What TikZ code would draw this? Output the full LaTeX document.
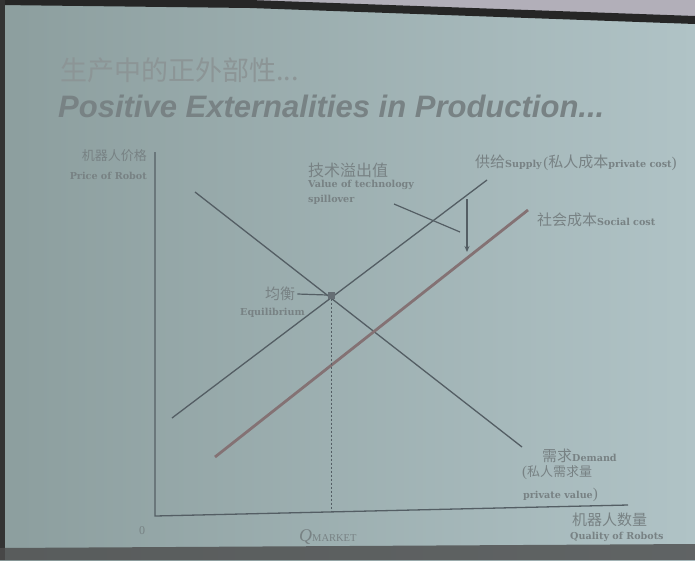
\documentclass[tikz,border=0pt]{standalone}
\usepackage{fontspec}
\setmainfont{Liberation Serif}
\newfontfamily\cjk{Noto Sans CJK SC}
\newfontfamily\titlesans{Liberation Sans}
\newfontfamily\lblfont{DejaVu Serif}
\usetikzlibrary{arrows.meta}
\definecolor{bgL}{RGB}{140,158,158}
\definecolor{bgR}{RGB}{176,195,198}
\definecolor{txt}{RGB}{120,130,132}
\definecolor{ln}{RGB}{84,94,100}
\definecolor{soc}{RGB}{132,114,116}
\definecolor{topgray}{RGB}{178,175,185}
\newcommand{\en}[1]{{\lblfont\bfseries\fontsize{9.6}{10}\selectfont #1}}
\newcommand{\zhs}[1]{{\cjk\fontsize{15}{16}\selectfont #1}}
\tikzset{
  lbl/.style={inner sep=0pt, text=txt, anchor=west},
  curve/.style={draw=ln, line width=1.3pt},
  axis/.style={draw=ln, line width=1.3pt},
}
\begin{document}
\begin{tikzpicture}[x=1pt,y=-1pt]
\useasboundingbox (0,0) rectangle (695,560);
% background
\shade[left color=bgL, right color=bgR] (0,0) rectangle (695,560);
\fill[topgray] (0,0) -- (695,0) -- (695,16) -- cycle;
\fill[black!85] (0,0) -- (250,0) -- (695,16) -- (695,24) -- (250,8) -- (0,5) -- cycle;
\fill[black!80] (0,0) rectangle (5,560);
\fill[black!70, opacity=0.8] (0,548) -- (695,544) -- (695,560) -- (0,560) -- cycle;
% title
\node[lbl, font=\cjk\fontsize{27}{30}\selectfont, text=txt!85] (t1) at (60,70) {生产中的正外部性...};
\node[lbl, font=\titlesans\bfseries\itshape\fontsize{31}{34}\selectfont] (t2) at (58,106) {Positive Externalities in Production...};
% axes
\coordinate (o) at (155,516);
\coordinate (ytop) at (155,152);
\coordinate (xend) at (628,505);
\draw[axis] (ytop) -- (o) -- (xend);
% curves
\coordinate (d1) at (195,192); \coordinate (d2) at (522,447);
\coordinate (s1) at (172,418); \coordinate (s2) at (487,180);
\coordinate (c1) at (215,457); \coordinate (c2) at (528,210);
\draw[curve] (d1) -- (d2);
\draw[curve] (s1) -- (s2);
\draw[draw=soc, line width=2.8pt] (c1) -- (c2);
% equilibrium
\node[fill=ln!90, minimum size=7pt, inner sep=0pt] (eq) at (331,295) {};
\coordinate (qm) at (331,512);
\draw[ln, line width=1pt, dash pattern=on 2pt off 2pt] (eq) -- (qm);
\node[lbl] (eqzh) at (265,294) {\zhs{均衡}};
\draw[ln, line width=1.2pt] (eqzh.east) ++(2pt,0) coordinate (eqa) -- (eq.west);
\node[lbl] (eqen) at (240,313) {\en{Equilibrium}};
% spillover
\node[lbl] (spzh) at (308,170) {{\cjk\fontsize{16}{17}\selectfont 技术溢出值}};
\node[lbl] (spen1) at (308,185) {\en{Value of technology}};
\node[lbl] (spen2) at (308,200) {\en{spillover}};
\coordinate (p1) at (394,204); \coordinate (p2) at (460,232);
\draw[ln, line width=1.2pt] (p1) -- (p2);
\coordinate (a1) at (467,199); \coordinate (a2) at (467,252);
\draw[ln, line width=1.4pt, -{Stealth[length=6pt,width=5pt]}] (a1) -- (a2);
% supply label
\node[lbl] (sup) at (475,163) {\zhs{供给}\en{Supply}\,{\fontsize{15}{16}\selectfont(}\zhs{私人成本}\en{private cost}{\fontsize{15}{16}\selectfont)}};
\node[lbl] (soclbl) at (537,220) {\zhs{社会成本}\en{Social cost}};
% demand label
\node[lbl] (dem) at (542,456) {\zhs{需求}\en{Demand}};
\node[lbl] (dem2) at (522,473) {{\fontsize{15}{16}\selectfont(}{\cjk\fontsize{13}{14}\selectfont 私人需求量}};
\node[lbl] (dem3) at (523,495) {\en{private value}{\fontsize{15}{16}\selectfont)}};
% axis labels
\node[lbl, anchor=east] (yzh) at (147,156) {{\cjk\fontsize{13}{14}\selectfont 机器人价格}};
\node[lbl, anchor=east] (yen) at (147,176) {\en{Price of Robot}};
\node[lbl, font=\fontsize{12}{13}\selectfont] (zero) at (139,531) {0};
\node[lbl] (qmk) at (299,537) {{\itshape\fontsize{18}{19}\selectfont Q}{\fontsize{10.5}{11}\selectfont MARKET}};
\node[lbl] (xzh) at (572,520) {\zhs{机器人数量}};
\node[lbl] (xen) at (570,537) {\en{Quality of Robots}};
\end{tikzpicture}
\end{document}
